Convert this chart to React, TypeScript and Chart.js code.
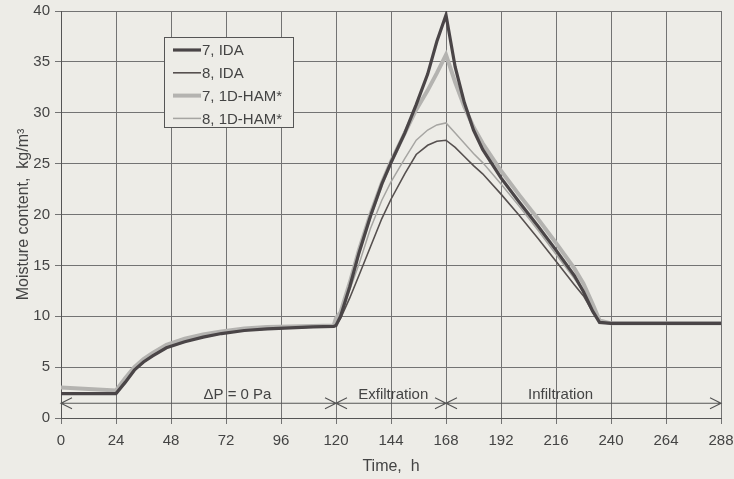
import React, { useEffect, useRef } from "react";
import { Chart, registerables } from "chart.js";

Chart.register(...registerables);

// Time axis (h)
const timeH = [0, 12, 24, 28, 32, 36, 40, 46, 54, 62, 70, 80, 90, 100, 110, 119, 120, 122, 126, 130, 135, 140, 144, 150, 155, 160, 164, 168, 172, 176, 180, 184, 192, 200, 208, 216, 224, 228, 232, 235, 240, 264, 288];

// Moisture content (kg/m3)
const ida7 = [2.4, 2.4, 2.4, 3.5, 4.7, 5.5, 6.1, 6.9, 7.5, 7.95, 8.3, 8.6, 8.75, 8.85, 8.95, 9.0, 9.1, 10.0, 12.9, 16.2, 19.8, 23.0, 25.1, 28.0, 30.8, 33.8, 37.0, 39.6, 34.5, 31.0, 28.3, 26.4, 23.6, 21.2, 18.9, 16.5, 14.0, 12.4, 10.5, 9.4, 9.3, 9.3, 9.3];
const ida8 = [2.4, 2.4, 2.4, 3.5, 4.7, 5.5, 6.1, 6.9, 7.5, 7.95, 8.3, 8.6, 8.75, 8.85, 8.95, 9.0, 9.1, 9.8, 11.8, 14.0, 16.8, 19.6, 21.5, 24.0, 25.9, 26.8, 27.2, 27.3, 26.6, 25.7, 24.8, 24.0, 22.0, 19.9, 17.7, 15.4, 13.1, 12.0, 10.4, 9.4, 9.3, 9.3, 9.3];
const ham7 = [3.0, 2.85, 2.7, 3.9, 5.0, 5.8, 6.4, 7.2, 7.8, 8.2, 8.5, 8.8, 8.95, 9.0, 9.05, 9.1, 9.8, 10.4, 13.3, 16.5, 20.0, 23.1, 25.2, 28.0, 30.3, 32.2, 33.9, 35.7, 33.0, 30.6, 28.6, 27.0, 24.3, 21.9, 19.6, 17.2, 14.7, 13.2, 11.2, 9.6, 9.3, 9.3, 9.3];
const ham8 = [2.4, 2.4, 2.4, 3.5, 4.7, 5.5, 6.1, 6.9, 7.5, 7.95, 8.3, 8.6, 8.75, 8.85, 8.95, 9.0, 9.3, 10.2, 12.6, 15.1, 18.6, 21.4, 23.2, 25.5, 27.3, 28.3, 28.8, 29.0, 28.0, 27.0, 26.0, 25.1, 23.0, 20.8, 18.5, 16.1, 13.7, 12.4, 10.8, 9.5, 9.3, 9.3, 9.3];

const seriesLabels = ["7, IDA", "8, IDA", "7, 1D-HAM*", "8, 1D-HAM*"];

// Test phases (h)
const phaseStart = [0, 120, 168];
const phaseEnd = [120, 168, 288];
const phaseLabel = ["\u0394P = 0 Pa", "Exfiltration", "Infiltration"];
const phaseLabelAt = [77, 145, 218];
const phaseArrowLevel = 1.45;

const xTicks = [0, 24, 48, 72, 96, 120, 144, 168, 192, 216, 240, 264, 288];
const yTicks = [0, 5, 10, 15, 20, 25, 30, 35, 40];

const BG = "#edece7";
const FONT = "'Liberation Sans', Arial, sans-serif";
const TEXT = "#444444";
const GRID = "#737373";

const styles = [
  { color: "#4a4547", width: 3.2 },
  { color: "#56504f", width: 1.6 },
  { color: "#b4b3b0", width: 4 },
  { color: "#a6a5a2", width: 1.5 },
];

const toPoints = (vals: number[]) => vals.map((v, i) => ({ x: timeH[i], y: v }));

const overlayPlugin = {
  id: "overlay",
  afterDatasetsDraw(chart: any) {
    const { ctx, chartArea, scales } = chart;
    const xs = scales.x;
    const ys = scales.y;
    ctx.save();
    const ay = ys.getPixelForValue(phaseArrowLevel);
    ctx.strokeStyle = "#555";
    ctx.lineWidth = 1.2;
    ctx.fillStyle = TEXT;
    ctx.font = `15px ${FONT}`;
    ctx.textAlign = "center";
    ctx.textBaseline = "alphabetic";
    const head = 11;
    const hw = 5.5;
    for (let i = 0; i < phaseStart.length; i++) {
      const x0 = xs.getPixelForValue(phaseStart[i]);
      const x1 = xs.getPixelForValue(phaseEnd[i]);
      ctx.beginPath();
      ctx.moveTo(x0, ay);
      ctx.lineTo(x1, ay);
      ctx.moveTo(x0 + head, ay - hw);
      ctx.lineTo(x0, ay);
      ctx.lineTo(x0 + head, ay + hw);
      ctx.moveTo(x1 - head, ay - hw);
      ctx.lineTo(x1, ay);
      ctx.lineTo(x1 - head, ay + hw);
      ctx.stroke();
      ctx.fillText(phaseLabel[i], xs.getPixelForValue(phaseLabelAt[i]), ay - 4);
    }
    const bx = chartArea.left + 103;
    const by = chartArea.top + 26;
    const bw = 129;
    const bh = 90;
    ctx.fillStyle = BG;
    ctx.fillRect(bx, by, bw, bh);
    ctx.strokeStyle = "#555";
    ctx.lineWidth = 1;
    ctx.strokeRect(bx + 0.5, by + 0.5, bw, bh);
    ctx.textAlign = "left";
    ctx.textBaseline = "middle";
    chart.data.datasets.forEach((ds: any, i: number) => {
      const cy = by + 13 + i * 22.8;
      ctx.strokeStyle = ds.borderColor;
      ctx.lineWidth = ds.borderWidth;
      ctx.beginPath();
      ctx.moveTo(bx + 9, cy);
      ctx.lineTo(bx + 37, cy);
      ctx.stroke();
      ctx.fillStyle = TEXT;
      ctx.fillText(ds.label, bx + 38, cy + 1);
    });
    ctx.restore();
  },
};

export default function App() {
  const ref = useRef<HTMLCanvasElement>(null);
  useEffect(() => {
    document.body.style.margin = "0";
    const canvas = ref.current!;
    const datasets = [ida7, ida8, ham7, ham8].map((vals, i) => ({
      label: seriesLabels[i],
      data: toPoints(vals),
      borderColor: styles[i].color,
      borderWidth: styles[i].width,
      pointRadius: 0,
      tension: 0,
      fill: false,
    }));
    const chart = new Chart(canvas, {
      type: "line",
      data: { datasets },
      options: {
        animation: false,
        responsive: false,
        devicePixelRatio: 1,
        layout: { padding: { top: 11, right: 13, left: 0, bottom: 0 } },
        plugins: { legend: { display: false }, tooltip: { enabled: false } },
        scales: {
          x: {
            type: "linear",
            min: 0,
            max: 288,
            afterBuildTicks: (s: any) => {
              s.ticks = xTicks.map((v) => ({ value: v }));
            },
            afterFit: (s: any) => {
              s.height = 61;
              s.paddingLeft = 0;
              s.paddingRight = 0;
            },
            ticks: { color: TEXT, font: { family: FONT, size: 15 }, padding: 8, maxRotation: 0, autoSkip: false },
            grid: { color: GRID, lineWidth: 1, tickLength: 6 },
            border: { color: "#555", width: 1 },
            title: { display: true, text: "Time,  h", color: TEXT, font: { family: FONT, size: 16 }, padding: { top: 0, bottom: 3 } },
          },
          y: {
            type: "linear",
            min: 0,
            max: 40,
            afterBuildTicks: (s: any) => {
              s.ticks = yTicks.map((v) => ({ value: v }));
            },
            afterFit: (s: any) => {
              s.width = 61;
              s.paddingTop = 0;
              s.paddingBottom = 0;
            },
            ticks: { color: TEXT, font: { family: FONT, size: 15 }, padding: 5 },
            grid: { color: GRID, lineWidth: 1, tickLength: 6 },
            border: { color: "#555", width: 1 },
            title: { display: true, text: "Moisture content,  kg/m\u00B3", color: TEXT, font: { family: FONT, size: 16 }, padding: { top: 14, bottom: 0 } },
          },
        },
      },
      plugins: [overlayPlugin],
    } as any);
    return () => chart.destroy();
  }, []);
  return (
    <div style={{ width: 734, height: 479, background: BG }}>
      <canvas ref={ref} width={734} height={479} style={{ display: "block" }} />
    </div>
  );
}
